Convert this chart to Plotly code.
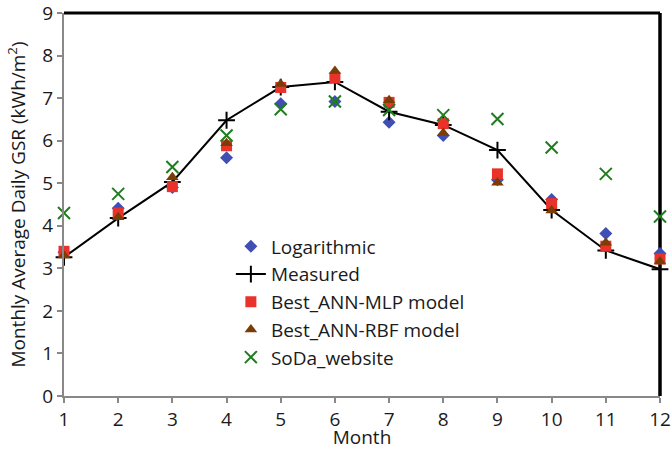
import plotly.graph_objects as go

months = list(range(1, 13))
logarithmic = [3.38, 4.41, 4.90, 5.60, 6.87, 6.92, 6.43, 6.12, 5.08, 4.62, 3.82, 3.35]
measured = [3.26, 4.18, 5.03, 6.48, 7.26, 7.38, 6.68, 6.37, 5.78, 4.37, 3.42, 2.98]
mlp = [3.40, 4.30, 4.92, 5.88, 7.25, 7.47, 6.90, 6.40, 5.22, 4.52, 3.52, 3.22]
rbf = [3.30, 4.20, 5.14, 5.94, 7.33, 7.64, 6.95, 6.18, 5.01, 4.36, 3.60, 3.16]
soda = [4.30, 4.75, 5.38, 6.12, 6.74, 6.92, 6.72, 6.60, 6.51, 5.84, 5.22, 4.22]

FONT = "Open Sans"
TXT = "#1a1a1a"

fig = go.Figure()
fig.add_trace(go.Scatter(x=months, y=logarithmic, mode="markers", name="Logarithmic",
                         legendgroup="a", cliponaxis=False,
                         marker=dict(symbol="diamond", size=10, color="#3f4fb4")))
fig.add_trace(go.Scatter(x=months, y=measured, mode="lines+markers", name="Measured",
                         legendgroup="b", cliponaxis=False,
                         line=dict(color="black", width=2),
                         marker=dict(symbol="cross-thin", size=12, color="black",
                                     line=dict(color="black", width=2))))
fig.add_trace(go.Scatter(x=months, y=mlp, mode="markers", name="Best_ANN-MLP model",
                         legendgroup="c", cliponaxis=False,
                         marker=dict(symbol="square", size=11, color="#e8322a")))
fig.add_trace(go.Scatter(x=months, y=rbf, mode="markers", name="Best_ANN-RBF model",
                         legendgroup="d", cliponaxis=False,
                         marker=dict(symbol="triangle-up", size=11, color="#7a3d06")))
fig.add_trace(go.Scatter(x=months, y=soda, mode="markers", name="SoDa_website",
                         legendgroup="e", cliponaxis=False,
                         marker=dict(symbol="x-thin", size=12, color="#1f7d1f",
                                     line=dict(color="#1f7d1f", width=2))))

fig.update_layout(
    width=671, height=450,
    margin=dict(l=64, r=11, t=13, b=54, autoexpand=False),
    plot_bgcolor="white", paper_bgcolor="white",
    font=dict(family=FONT, size=19, color=TXT),
    showlegend=True,
    legend=dict(x=0.28, y=0.44, xanchor="left", yanchor="top",
                bgcolor="rgba(0,0,0,0)", font=dict(size=19, family=FONT, color=TXT),
                itemsizing="trace", tracegroupgap=0),
    xaxis=dict(range=[1, 12], tickvals=months, ticks="outside", ticklen=5,
               tickcolor="#888", tickwidth=2, showline=True, linecolor="#888", linewidth=2,
               showgrid=False, zeroline=False, automargin=False, ticklabeloverflow="allow",
               title=dict(text="Month", font=dict(size=19), standoff=3),
               tickfont=dict(size=19)),
    yaxis=dict(range=[0, 9], dtick=1, ticks="outside", ticklen=5,
               tickcolor="#888", tickwidth=2, showline=True, linecolor="#888", linewidth=2,
               showgrid=False, zeroline=False, automargin=False, ticklabeloverflow="allow",
               title=dict(text="Monthly Average Daily GSR (kWh/m<sup>2</sup>)", font=dict(size=19), standoff=12),
               tickfont=dict(size=19)),
    shapes=[
        dict(type="line", xref="paper", yref="paper", x0=0, x1=1, y0=1, y1=1,
             layer="below", line=dict(color="black", width=3)),
        dict(type="line", xref="paper", yref="paper", x0=1, x1=1, y0=0, y1=1,
             layer="below", line=dict(color="black", width=3.5)),
    ],
)

fig.write_html("out.html", config={"displayModeBar": False},
               post_script="document.body.style.margin='0';")
